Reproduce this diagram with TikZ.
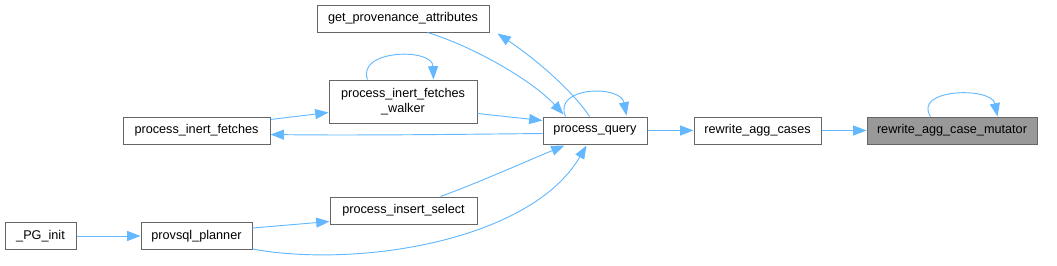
\documentclass[tikz,border=0pt]{standalone}
\usepackage{fontspec}
\setmainfont{Liberation Sans}
\usetikzlibrary{arrows.meta,calc}
\definecolor{edgeblue}{HTML}{63B8FF}
\definecolor{boxgray}{HTML}{666666}
\definecolor{fillgray}{HTML}{999999}
\tikzset{
  fn/.style={draw=boxgray, fill=white, line width=0.75pt, inner sep=0pt, align=center,
    font=\fontsize{9.5}{11.5}\selectfont, minimum height=20.25pt},
  cur/.style={fn, fill=fillgray},
  call/.style={draw=edgeblue, line width=0.7pt, -{Triangle[length=10pt,width=7.5pt]}},
}
\begin{document}
\begin{tikzpicture}[x=0.75pt,y=-0.75pt]
\useasboundingbox (0,0) rectangle (1057,265);
% nodes
\node[fn, minimum width=129pt] (gpa) at (403,18.5) {get\_provenance\_attributes};
\node[fn, minimum width=111pt, minimum height=32.25pt] (walker) at (403,101.5) {process\_inert\_fetches\\\_walker};
\node[fn, minimum width=110.25pt] (pif) at (196.5,130.5) {process\_inert\_fetches};
\node[fn, minimum width=110.25pt] (pis) at (403.5,210.5) {process\_insert\_select};
\node[fn, minimum width=53.25pt] (pginit) at (40.5,236) {\_PG\_init};
\node[fn, minimum width=83.25pt] (planner) at (196.5,236) {provsql\_planner};
\node[fn, minimum width=78pt] (pq) at (595,130.5) {process\_query};
\node[fn, minimum width=95.25pt] (rac) at (757.5,130.5) {rewrite\_agg\_cases};
\node[cur, minimum width=127.5pt] (mut) at (952,130.5) {rewrite\_agg\_case\_mutator};
% edges
\draw[call] (rac.east) -- (mut.west);
\draw[call] (pq.east) -- (rac.west);
\draw[call] ($(mut.north west)+(64,0)$) .. controls ($(mut.north west)+(46,-28)$) and ($(mut.north west)+(125,-30)$) .. ($(mut.north west)+(131,0)$);
\draw[call] ($(pq.north west)+(23,0)$) .. controls ($(pq.north west)+(10,-30)$) and ($(pq.north west)+(78,-32)$) .. ($(pq.north west)+(84,-1)$);
\draw[call] ($(walker.north west)+(39,0)$) .. controls ($(walker.north west)+(28,-30)$) and ($(walker.north west)+(104,-32)$) .. ($(walker.north west)+(105,0)$);
\draw[call] ($(walker.south east)+(0,-10)$) -- ($(pq.north west)+(0,4)$);
\draw[call] ($(pq.south west)+(0,-11)$) .. controls (450,134.5) and (350,135.5) .. ($(pif.south east)+(0,-10)$);
\draw[call] ($(pif.north east)+(0,3)$) -- ($(walker.north west)+(0,33)$);
\draw[call] ($(gpa.south west)+(111,0)$) .. controls (472,46) and (532,80) .. ($(pq.north west)+(21,-2)$);
\draw[call] ($(pq.north west)+(47,0)$) .. controls (575,94) and (540,62) .. ($(gpa.south east)+(8,1)$);
\draw[call] ($(pis.north west)+(111,0)$) .. controls (480,182) and (520,164) .. ($(pq.south west)+(22,1)$);
\draw[call] ($(planner.north east)+(0,6)$) -- ($(pis.south west)+(0,-3)$);
\draw[call] (pginit.east) -- (planner.west);
\draw[call] ($(planner.south east)+(0,-1)$) .. controls (355,268) and (530,242) .. ($(pq.south west)+(44,1)$);
\end{tikzpicture}
\end{document}
